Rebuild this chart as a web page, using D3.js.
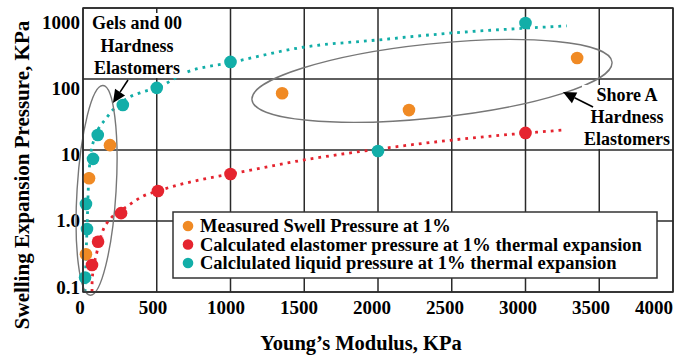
<!DOCTYPE html>
<html>
<head>
<meta charset="utf-8">
<script src="https://cdn.jsdelivr.net/npm/d3@7"></script>
<style>
  body { margin: 0; background: #fff; }
</style>
</head>
<body>
<div id="chart"></div>
<script>
// --- data ---
const xTicks = [0, 500, 1000, 1500, 2000, 2500, 3000, 3500, 4000];
const yTicks = [0.1, 1, 10, 100, 1000];
const yTickLabels = ['0.1', '1.0', '10', '100', '1000'];

const measuredE = [20, 41, 183, 1350, 2210, 3350];
const measuredP = [0.34, 4.0, 11.7, 63, 36.5, 198];

const elastomerE = [61, 102, 258, 508, 1000, 3000];
const elastomerP = [0.24, 0.51, 1.29, 2.65, 4.6, 17.4];

const liquidE = [14, 27, 20, 68, 100, 270, 500, 1000, 2000, 3000];
const liquidP = [0.16, 0.77, 1.74, 7.5, 16.3, 43, 75, 174, 9.7, 616];

// dotted trend lines
const liquidFitE = [14, 20, 27, 40, 68, 163, 285, 407, 500, 705, 1000, 1492, 2000, 2502, 3000, 3280];
const liquidFitP = [0.1, 0.3, 0.75, 4.5, 12.6, 29, 51, 66, 75, 125, 170, 280, 355, 445, 520, 560];
const elastomerFitE = [61, 62, 95, 129, 190, 298, 400, 508, 793, 1003, 1492, 2000, 2502, 3000, 3270];
const elastomerFitP = [0.1, 0.15, 0.37, 0.68, 1.1, 1.6, 2.2, 2.65, 3.8, 4.6, 7.2, 10.3, 13.8, 17.3, 19.2];

const legendLabels = [
  'Measured Swell Pressure at 1%',
  'Calculated elastomer pressure at 1% thermal expansion',
  'Calclulated liquid pressure at 1% thermal expansion'
];
const gelsText = ['Gels and 00', 'Hardness', 'Elastomers'];
const shoreText = ['Shore A', 'Hardness', 'Elastomers'];

const colors = { measured: '#f08a24', elastomer: '#e5242f', liquid: '#12aea8' };

// --- layout ---
const width = 690, height = 355;
const margin = { top: 8, right: 17, bottom: 63, left: 83 };

const svg = d3.select('#chart').append('svg')
  .attr('width', width)
  .attr('height', height)
  .attr('font-family', '"Liberation Serif", "Times New Roman", Times, serif')
  .attr('font-weight', 'bold')
  .style('display', 'block');

const x = d3.scaleLinear().domain([0, 4000]).range([margin.left, width - margin.right]);
const y = d3.scaleLog().domain([0.1, 1000]).range([height - margin.bottom, margin.top]);

// tick labels sit a little off the grid in the original
const xLab = d3.scaleLinear().domain([0, 4000]).range([80, 664]);
const yLab = d3.scaleLog().domain([0.1, 1000]).range([287, 22]);

const gridColor = '#2a2a2a';

// grid
svg.append('g').selectAll('line').data(xTicks).join('line')
  .attr('x1', d => x(d)).attr('x2', d => x(d))
  .attr('y1', y(1000)).attr('y2', y(0.1))
  .attr('stroke', gridColor).attr('stroke-width', 1.5);
svg.append('g').selectAll('line').data(yTicks).join('line')
  .attr('x1', x(0)).attr('x2', x(4000))
  .attr('y1', d => y(d)).attr('y2', d => y(d))
  .attr('stroke', gridColor).attr('stroke-width', 1.5);

// axis labels
svg.append('g').selectAll('text').data(xTicks).join('text')
  .attr('x', (d, i) => i === xTicks.length - 1 ? x(d) : xLab(d))
  .attr('y', 314)
  .attr('text-anchor', (d, i) => i === xTicks.length - 1 ? 'end' : 'middle')
  .attr('font-size', 19)
  .text(d => d);
svg.append('g').selectAll('text').data(yTicks).join('text')
  .attr('x', 80)
  .attr('y', d => yLab(d))
  .attr('dy', '0.35em')
  .attr('text-anchor', 'end')
  .attr('font-size', 19)
  .text((d, i) => yTickLabels[i]);

svg.append('text')
  .attr('x', 361).attr('y', 350)
  .attr('text-anchor', 'middle')
  .attr('font-size', 20.5)
  .text('Young\u2019s Modulus, KPa');
svg.append('text')
  .attr('transform', 'translate(29,175) rotate(-90)')
  .attr('text-anchor', 'middle')
  .attr('font-size', 21)
  .text('Swelling Expansion Pressure, KPa');

// dotted trend lines
const line = d3.line().curve(d3.curveMonotoneX);
function dotted(es, ps, color) {
  svg.append('path')
    .attr('d', line(es.map((e, i) => [x(e), y(ps[i])])))
    .attr('fill', 'none')
    .attr('stroke', color)
    .attr('stroke-width', 2.8)
    .attr('stroke-dasharray', '2.8,5');
}
dotted(liquidFitE, liquidFitP, colors.liquid);
dotted(elastomerFitE, elastomerFitP, colors.elastomer);

// grouping ellipses (centres in data units, radii in px)
const ellipses = [
  { e: 92, p: 2.7, rx: 19.5, ry: 105, rot: 3.5 },
  { e: 2366, p: 94, rx: 181, ry: 37, rot: -6 }
];
svg.append('g').selectAll('ellipse').data(ellipses).join('ellipse')
  .attr('transform', d => `translate(${x(d.e)},${y(d.p)}) rotate(${d.rot})`)
  .attr('rx', d => d.rx).attr('ry', d => d.ry)
  .attr('fill', 'none')
  .attr('stroke', '#777')
  .attr('stroke-width', 1.4);

// points
function dots(es, ps, color) {
  svg.append('g').selectAll('circle').data(es).join('circle')
    .attr('cx', d => x(d))
    .attr('cy', (d, i) => y(ps[i]))
    .attr('r', 6.3)
    .attr('fill', color);
}
dots(measuredE, measuredP, colors.measured);
dots(elastomerE, elastomerP, colors.elastomer);
dots(liquidE, liquidP, colors.liquid);

// annotation text blocks with white backing
function note(lines, e, p, lineH) {
  const g = svg.append('g');
  const bg = g.append('rect').attr('fill', '#fff');
  const t = g.append('text')
    .attr('text-anchor', 'middle')
    .attr('font-size', 18);
  lines.forEach((s, i) => {
    t.append('tspan').attr('x', x(e)).attr('y', y(p) + i * lineH).text(s);
  });
  const b = t.node().getBBox();
  bg.attr('x', b.x - 2).attr('y', b.y).attr('width', b.width + 4).attr('height', b.height);
}
note(gelsText, 366, 506, 22.5);
note(shoreText, 3688, 49, 22);

// arrows
const arrows = [
  { e0: 305, p0: 96.8, e1: 203, p1: 45.9 },
  { e0: 3458, p0: 40.3, e1: 3254, p1: 65.6 }
];
arrows.forEach(a => {
  const x0 = x(a.e0), y0 = y(a.p0), x1 = x(a.e1), y1 = y(a.p1);
  const ang = Math.atan2(y1 - y0, x1 - x0);
  const L = 13, W = 6;
  const bx = x1 - L * Math.cos(ang), by = y1 - L * Math.sin(ang);
  svg.append('line')
    .attr('x1', x0).attr('y1', y0).attr('x2', bx).attr('y2', by)
    .attr('stroke', '#000').attr('stroke-width', 1.6);
  svg.append('path')
    .attr('d', `M${x1},${y1}L${bx + W * Math.sin(ang)},${by - W * Math.cos(ang)}L${bx - W * Math.sin(ang)},${by + W * Math.cos(ang)}Z`)
    .attr('fill', '#000');
});

// legend
const legend = svg.append('g');
legend.append('rect')
  .attr('x', 173).attr('y', 212).attr('width', 484).attr('height', 66)
  .attr('fill', '#fff').attr('stroke', '#333').attr('stroke-width', 1.5);
const legendColors = [colors.measured, colors.elastomer, colors.liquid];
legendLabels.forEach((s, i) => {
  const ly = 226 + i * 18.5;
  legend.append('circle').attr('cx', 188).attr('cy', ly).attr('r', 5.3).attr('fill', legendColors[i]);
  legend.append('text').attr('x', 200).attr('y', ly).attr('dy', '0.35em')
    .attr('font-size', 18.5).text(s);
});

// plot frame on top
svg.append('rect')
  .attr('x', x(0)).attr('y', y(1000))
  .attr('width', x(4000) - x(0)).attr('height', y(0.1) - y(1000))
  .attr('fill', 'none').attr('stroke', gridColor).attr('stroke-width', 1.5);
</script>
</body>
</html>
